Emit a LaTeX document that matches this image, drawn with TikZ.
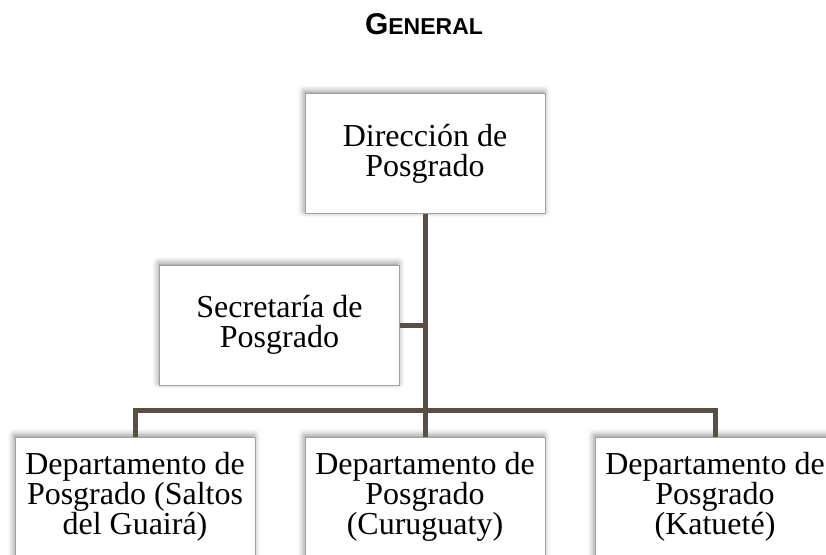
\documentclass[tikz,border=0pt]{standalone}
\usepackage{fontspec}
\setmainfont{Liberation Serif}
\newfontfamily\titlefont{Liberation Sans}
\usetikzlibrary{shadows.blur}
\definecolor{linkc}{HTML}{594F45}
\definecolor{edgec}{HTML}{A0A0A0}
\tikzset{
  orgbox/.style={draw=edgec, line width=1pt, fill=white, rectangle,
    minimum width=240pt, minimum height=120pt, inner sep=0pt, align=center,
    font=\fontsize{32}{30}\selectfont,
    blur shadow={shadow xshift=-1pt, shadow yshift=2pt, shadow blur radius=6pt, shadow opacity=45}},
  link/.style={draw=linkc, line width=5pt}
}
\begin{document}
\begin{tikzpicture}[x=1pt,y=-1pt]
\useasboundingbox (0,0) rectangle (826,554);
\clip (0,0) rectangle (826,554);
\node (title) at (424,24) {\titlefont\bfseries\fontsize{30}{30}\selectfont G\fontsize{23}{30}\selectfont ENERAL};
\coordinate (bar) at (425,410.5);
% connectors first (under boxes)
\node[orgbox] (tbox) at (425,153.5) {Dirección de\\Posgrado};
\node[orgbox] (sec) at (279.5,325) {Secretaría de\\Posgrado};
\node[orgbox] (d1) at (135,497) {Departamento de\\Posgrado (Saltos\\del Guairá)};
\node[orgbox] (d2) at (425,497) {Departamento de\\Posgrado\\(Curuguaty)};
\node[orgbox] (d3) at (715,497) {Departamento de\\Posgrado\\(Katueté)};
\draw[link] (tbox.south) -- (d2.north);
\draw[link] (d1.north) |- (bar) -| (d3.north);
\draw[link] (sec.east) -- (sec.east -| tbox.south);
\end{tikzpicture}
\end{document}
